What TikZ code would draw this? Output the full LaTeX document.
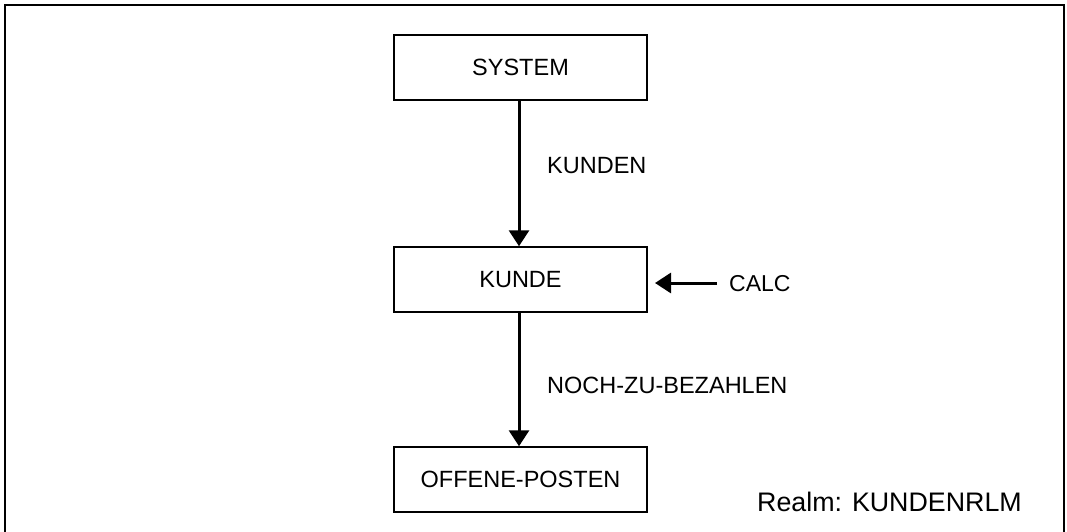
\documentclass[tikz,border=0pt]{standalone}
\usepackage{fontspec}
\setmainfont{Liberation Sans}
\usetikzlibrary{arrows.meta}
\begin{document}
\begin{tikzpicture}[x=1pt,y=-1pt,
  every node/.style={font=\fontsize{23.5}{28}\selectfont},
  box/.style={draw,line width=1.5pt,minimum width=253pt,minimum height=65pt,inner sep=0pt},
  lbl/.style={anchor=base west,inner sep=0pt},
  flow/.style={line width=3pt,-{Triangle[length=16pt,width=20pt]}}]
\useasboundingbox (0,0) rectangle (1067,532);
\draw[line width=2pt] (5,5) rectangle (1064,540);
\node[box] (sys) at (520.5,67.5) {SYSTEM};
\node[box] (kun) at (520.5,279.5) {KUNDE};
\node[box] (off) at (520.5,479.5) {OFFENE-POSTEN};
\draw[flow] ([xshift=-1.5pt]sys.south) -- ([xshift=-1.5pt]kun.north);
\draw[flow] ([xshift=-1.5pt]kun.south) -- ([xshift=-1.5pt]off.north);
\node[lbl] (l1) at (547,173) {KUNDEN};
\node[lbl] (l2) at (547,393) {NOCH-ZU-BEZAHLEN};
\node[lbl,font=\fontsize{23}{28}\selectfont] (calc) at (729,291.5) {CALC};
\coordinate (cs) at (717,283);
\coordinate (ct) at (655,283);
\draw[flow] (cs) -- (ct);
\node[lbl,font=\fontsize{26.8}{32}\selectfont] (realm) at (757,511) {Realm: KUNDENRLM};
\end{tikzpicture}
\end{document}
